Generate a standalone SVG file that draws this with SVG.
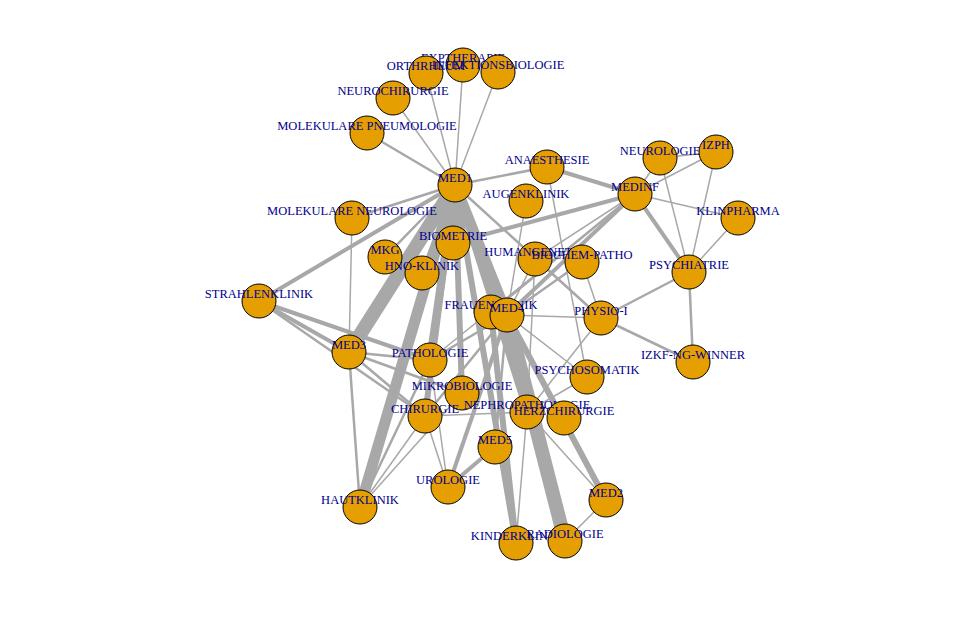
<svg xmlns="http://www.w3.org/2000/svg" width="960" height="628" viewBox="0 0 960 628">
<style>
.bg{fill:#ffffff}
line{stroke:#a8a8a8;stroke-linecap:butt}
.e1{stroke-width:1.5}
.e2{stroke-width:2.5}
.e3{stroke-width:4}
.e4{stroke-width:6}
.e5{stroke-width:8}
.e6{stroke-width:11}
.e7{stroke-width:14}
.node circle{fill:#e69f00;stroke:#000;stroke-width:1}
.node text{font-family:"Liberation Serif","Times New Roman",serif;font-size:12.5px;fill:#00008b;text-anchor:middle}
</style>
<rect class="bg" x="0" y="0" width="960" height="628"/>
<g id="edges">
<line class="e1" x1="455" y1="185" x2="463" y2="65"/>
<line class="e1" x1="455" y1="185" x2="426" y2="73"/>
<line class="e1" x1="455" y1="185" x2="498" y2="72"/>
<line class="e1" x1="455" y1="185" x2="393" y2="98"/>
<line class="e2" x1="455" y1="185" x2="367" y2="133"/>
<line class="e2" x1="455" y1="185" x2="547" y2="167"/>
<line class="e2" x1="455" y1="185" x2="352" y2="218"/>
<line class="e3" x1="455" y1="185" x2="259" y2="301"/>
<line class="e2" x1="455" y1="185" x2="601" y2="318"/>
<line class="e2" x1="455" y1="185" x2="385" y2="257"/>
<line class="e3" x1="455" y1="185" x2="422" y2="273"/>
<line class="e3" x1="455" y1="185" x2="453" y2="243"/>
<line class="e7" x1="455" y1="185" x2="349" y2="352"/>
<line class="e6" x1="455" y1="185" x2="360" y2="507"/>
<line class="e5" x1="455" y1="185" x2="430" y2="360"/>
<line class="e4" x1="455" y1="185" x2="425" y2="416"/>
<line class="e4" x1="455" y1="185" x2="462" y2="393"/>
<line class="e6" x1="455" y1="185" x2="507" y2="315"/>
<line class="e4" x1="455" y1="185" x2="527" y2="412"/>
<line class="e4" x1="455" y1="185" x2="516" y2="543"/>
<line class="e3" x1="635" y1="194" x2="547" y2="167"/>
<line class="e1" x1="635" y1="194" x2="660" y2="158"/>
<line class="e1" x1="635" y1="194" x2="716" y2="152"/>
<line class="e1" x1="635" y1="194" x2="738" y2="218"/>
<line class="e3" x1="635" y1="194" x2="689" y2="272"/>
<line class="e3" x1="635" y1="194" x2="453" y2="243"/>
<line class="e3" x1="635" y1="194" x2="507" y2="315"/>
<line class="e2" x1="635" y1="194" x2="491" y2="312"/>
<line class="e1" x1="635" y1="194" x2="535" y2="259"/>
<line class="e1" x1="635" y1="194" x2="430" y2="360"/>
<line class="e1" x1="660" y1="158" x2="716" y2="152"/>
<line class="e1" x1="660" y1="158" x2="689" y2="272"/>
<line class="e1" x1="716" y1="152" x2="689" y2="272"/>
<line class="e1" x1="738" y1="218" x2="689" y2="272"/>
<line class="e2" x1="689" y1="272" x2="693" y2="362"/>
<line class="e2" x1="689" y1="272" x2="601" y2="318"/>
<line class="e2" x1="601" y1="318" x2="693" y2="362"/>
<line class="e1" x1="601" y1="318" x2="582" y2="262"/>
<line class="e1" x1="601" y1="318" x2="507" y2="315"/>
<line class="e1" x1="601" y1="318" x2="527" y2="412"/>
<line class="e1" x1="601" y1="318" x2="535" y2="259"/>
<line class="e1" x1="547" y1="167" x2="587" y2="377"/>
<line class="e1" x1="526" y1="201" x2="507" y2="315"/>
<line class="e2" x1="582" y1="262" x2="507" y2="315"/>
<line class="e1" x1="535" y1="259" x2="507" y2="315"/>
<line class="e1" x1="535" y1="259" x2="527" y2="412"/>
<line class="e1" x1="587" y1="377" x2="507" y2="315"/>
<line class="e1" x1="587" y1="377" x2="527" y2="412"/>
<line class="e3" x1="259" y1="301" x2="349" y2="352"/>
<line class="e3" x1="259" y1="301" x2="430" y2="360"/>
<line class="e2" x1="259" y1="301" x2="425" y2="416"/>
<line class="e1" x1="352" y1="218" x2="349" y2="352"/>
<line class="e2" x1="349" y1="352" x2="430" y2="360"/>
<line class="e2" x1="349" y1="352" x2="425" y2="416"/>
<line class="e2" x1="349" y1="352" x2="462" y2="393"/>
<line class="e2" x1="349" y1="352" x2="360" y2="507"/>
<line class="e4" x1="491" y1="312" x2="516" y2="543"/>
<line class="e7" x1="507" y1="315" x2="565" y2="541"/>
<line class="e4" x1="507" y1="315" x2="606" y2="500"/>
<line class="e3" x1="507" y1="315" x2="448" y2="487"/>
<line class="e2" x1="507" y1="315" x2="564" y2="418"/>
<line class="e2" x1="507" y1="315" x2="495" y2="447"/>
<line class="e2" x1="507" y1="315" x2="425" y2="416"/>
<line class="e2" x1="507" y1="315" x2="430" y2="360"/>
<line class="e1" x1="606" y1="500" x2="565" y2="541"/>
<line class="e1" x1="606" y1="500" x2="527" y2="412"/>
<line class="e1" x1="527" y1="412" x2="516" y2="543"/>
<line class="e1" x1="527" y1="412" x2="425" y2="416"/>
<line class="e3" x1="448" y1="487" x2="495" y2="447"/>
<line class="e1" x1="448" y1="487" x2="425" y2="416"/>
<line class="e1" x1="448" y1="487" x2="430" y2="360"/>
<line class="e1" x1="360" y1="507" x2="425" y2="416"/>
<line class="e2" x1="360" y1="507" x2="430" y2="360"/>
<line class="e1" x1="360" y1="507" x2="462" y2="393"/>
</g>
<g id="n-EXPTHERAPIE" class="node"><circle cx="463" cy="65" r="17"/><text x="463" y="62">EXPTHERAPIE</text></g>
<g id="n-ORTHRHEUM" class="node"><circle cx="426" cy="73" r="17"/><text x="426" y="70">ORTHRHEUM</text></g>
<g id="n-INFEKTIONSBIOLOGIE" class="node"><circle cx="498" cy="72" r="17"/><text x="498" y="69">INFEKTIONSBIOLOGIE</text></g>
<g id="n-NEUROCHIRURGIE" class="node"><circle cx="393" cy="98" r="17"/><text x="393" y="95">NEUROCHIRURGIE</text></g>
<g id="n-MOLEKULARE-PNEUMOLOGIE" class="node"><circle cx="367" cy="133" r="17"/><text x="367" y="130">MOLEKULARE PNEUMOLOGIE</text></g>
<g id="n-MED1" class="node"><circle cx="455" cy="185" r="17"/><text x="455" y="182">MED1</text></g>
<g id="n-ANAESTHESIE" class="node"><circle cx="547" cy="167" r="17"/><text x="547" y="164">ANAESTHESIE</text></g>
<g id="n-AUGENKLINIK" class="node"><circle cx="526" cy="201" r="17"/><text x="526" y="198">AUGENKLINIK</text></g>
<g id="n-NEUROLOGIE" class="node"><circle cx="660" cy="158" r="17"/><text x="660" y="155">NEUROLOGIE</text></g>
<g id="n-IZPH" class="node"><circle cx="716" cy="152" r="17"/><text x="716" y="149">IZPH</text></g>
<g id="n-MEDINF" class="node"><circle cx="635" cy="194" r="17"/><text x="635" y="191">MEDINF</text></g>
<g id="n-KLINPHARMA" class="node"><circle cx="738" cy="218" r="17"/><text x="738" y="215">KLINPHARMA</text></g>
<g id="n-PSYCHIATRIE" class="node"><circle cx="689" cy="272" r="17"/><text x="689" y="269">PSYCHIATRIE</text></g>
<g id="n-MOLEKULARE-NEUROLOGIE" class="node"><circle cx="352" cy="218" r="17"/><text x="352" y="215">MOLEKULARE NEUROLOGIE</text></g>
<g id="n-BIOMETRIE" class="node"><circle cx="453" cy="243" r="17"/><text x="453" y="240">BIOMETRIE</text></g>
<g id="n-MKG" class="node"><circle cx="385" cy="257" r="17"/><text x="385" y="254">MKG</text></g>
<g id="n-HNO-KLINIK" class="node"><circle cx="422" cy="273" r="17"/><text x="422" y="270">HNO-KLINIK</text></g>
<g id="n-HUMANGENETIK" class="node"><circle cx="535" cy="259" r="17"/><text x="535" y="256">HUMANGENETIK</text></g>
<g id="n-BIOCHEM-PATHO" class="node"><circle cx="582" cy="262" r="17"/><text x="582" y="259">BIOCHEM-PATHO</text></g>
<g id="n-STRAHLENKLINIK" class="node"><circle cx="259" cy="301" r="17"/><text x="259" y="298">STRAHLENKLINIK</text></g>
<g id="n-FRAUENKLINIK" class="node"><circle cx="491" cy="312" r="17"/><text x="491" y="309">FRAUENKLINIK</text></g>
<g id="n-MED4" class="node"><circle cx="507" cy="315" r="17"/><text x="507" y="312">MED4</text></g>
<g id="n-PHYSIO-I" class="node"><circle cx="601" cy="318" r="17"/><text x="601" y="315">PHYSIO-I</text></g>
<g id="n-MED3" class="node"><circle cx="349" cy="352" r="17"/><text x="349" y="349">MED3</text></g>
<g id="n-PATHOLOGIE" class="node"><circle cx="430" cy="360" r="17"/><text x="430" y="357">PATHOLOGIE</text></g>
<g id="n-IZKF-NG-WINNER" class="node"><circle cx="693" cy="362" r="17"/><text x="693" y="359">IZKF-NG-WINNER</text></g>
<g id="n-PSYCHOSOMATIK" class="node"><circle cx="587" cy="377" r="17"/><text x="587" y="374">PSYCHOSOMATIK</text></g>
<g id="n-MIKROBIOLOGIE" class="node"><circle cx="462" cy="393" r="17"/><text x="462" y="390">MIKROBIOLOGIE</text></g>
<g id="n-CHIRURGIE" class="node"><circle cx="425" cy="416" r="17"/><text x="425" y="413">CHIRURGIE</text></g>
<g id="n-NEPHROPATHOLOGIE" class="node"><circle cx="527" cy="412" r="17"/><text x="527" y="409">NEPHROPATHOLOGIE</text></g>
<g id="n-HERZCHIRURGIE" class="node"><circle cx="564" cy="418" r="17"/><text x="564" y="415">HERZCHIRURGIE</text></g>
<g id="n-MED5" class="node"><circle cx="495" cy="447" r="17"/><text x="495" y="444">MED5</text></g>
<g id="n-UROLOGIE" class="node"><circle cx="448" cy="487" r="17"/><text x="448" y="484">UROLOGIE</text></g>
<g id="n-MED2" class="node"><circle cx="606" cy="500" r="17"/><text x="606" y="497">MED2</text></g>
<g id="n-HAUTKLINIK" class="node"><circle cx="360" cy="507" r="17"/><text x="360" y="504">HAUTKLINIK</text></g>
<g id="n-KINDERKLINIK" class="node"><circle cx="516" cy="543" r="17"/><text x="516" y="540">KINDERKLINIK</text></g>
<g id="n-RADIOLOGIE" class="node"><circle cx="565" cy="541" r="17"/><text x="565" y="538">RADIOLOGIE</text></g>
</svg>
